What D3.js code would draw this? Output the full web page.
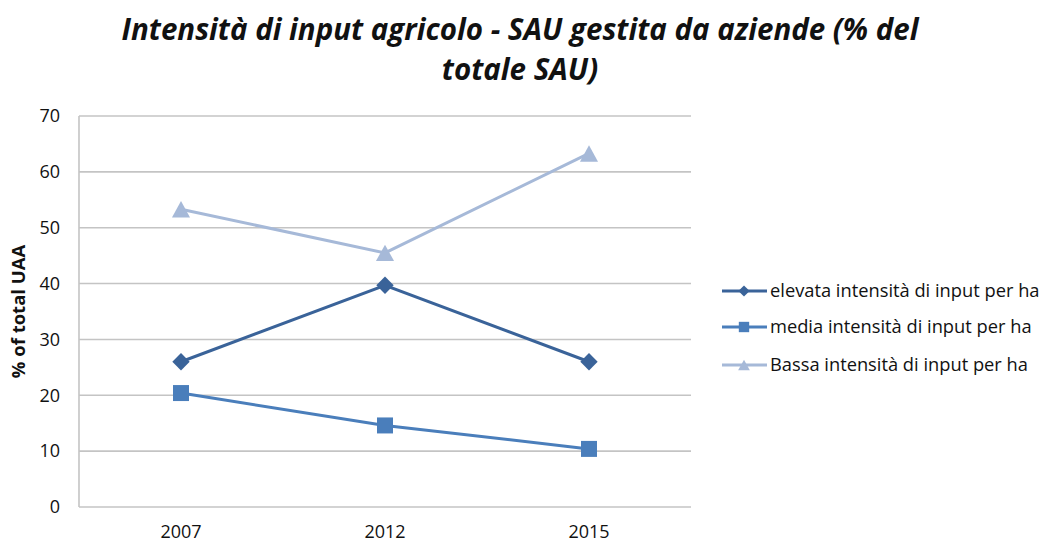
<!DOCTYPE html>
<html lang="it">
<head>
<meta charset="UTF-8">
<title>Intensità di input agricolo</title>
<script src="https://d3js.org/d3.v7.min.js"></script>
<style>
  body { margin: 0; background: #fff; }
  svg text { font-family: "Open Sans", sans-serif; fill: #111; }
</style>
</head>
<body>
<svg width="1043" height="544"></svg>
<script>
// data
const years = ["2007", "2012", "2015"];
const elevata = [26.0, 39.7, 26.0];
const media = [20.4, 14.6, 10.4];
const bassa = [53.3, 45.5, 63.3];
const seriesNames = ["elevata intensità di input per ha", "media intensità di input per ha", "Bassa intensità di input per ha"];
const yTicks = [0, 10, 20, 30, 40, 50, 60, 70];

// diamond = square turned 45 degrees
const diamond = {
  draw(ctx, size) {
    const r = Math.sqrt(size / 2);
    ctx.moveTo(0, -r); ctx.lineTo(r, 0); ctx.lineTo(0, r); ctx.lineTo(-r, 0); ctx.closePath();
  }
};
// triangle centred on its bounding box
const tri = {
  draw(ctx, size) {
    const h = Math.sqrt(size);
    ctx.moveTo(0, -h / 2); ctx.lineTo(h * 0.55, h / 2); ctx.lineTo(-h * 0.55, h / 2); ctx.closePath();
  }
};

const series = [
  { name: seriesNames[0], values: elevata, color: "#3A6399", shape: diamond, size: 150 },
  { name: seriesNames[1], values: media, color: "#4A7EBB", shape: d3.symbolSquare, size: 256 },
  { name: seriesNames[2], values: bassa, color: "#A6B9D8", shape: tri, size: 270 }
];

const plot = { left: 79, right: 691, top: 116, bottom: 507 };
const svg = d3.select("svg");

const x = d3.scaleBand().domain(years).range([plot.left, plot.right]);
const y = d3.scaleLinear().domain([0, 70]).range([plot.bottom, plot.top]);

// title
const title = svg.append("text")
  .attr("text-anchor", "middle")
  .style("font-style", "italic")
  .style("font-weight", "bold")
  .style("font-size", "29.5px");
title.append("tspan").attr("x", 520).attr("y", 40).text("Intensità di input agricolo - SAU gestita da aziende (% del");
title.append("tspan").attr("x", 520).attr("y", 80).text("totale SAU)");

// gridlines
svg.append("g")
  .selectAll("line")
  .data(yTicks)
  .join("line")
  .attr("x1", plot.left)
  .attr("x2", plot.right)
  .attr("y1", d => y(d))
  .attr("y2", d => y(d))
  .attr("stroke", "#c4c4c4")
  .attr("stroke-width", 1.6);

// y axis line
svg.append("line")
  .attr("x1", plot.left).attr("x2", plot.left)
  .attr("y1", plot.top).attr("y2", plot.bottom)
  .attr("stroke", "#c4c4c4")
  .attr("stroke-width", 1.6);

// y labels
svg.append("g")
  .selectAll("text")
  .data(yTicks)
  .join("text")
  .attr("x", 60)
  .attr("y", d => y(d))
  .attr("dy", "0.35em")
  .attr("text-anchor", "end")
  .style("font-size", "18px")
  .text(d => d);

// x labels
svg.append("g")
  .selectAll("text")
  .data(years)
  .join("text")
  .attr("x", d => x(d) + x.bandwidth() / 2)
  .attr("y", 538)
  .attr("text-anchor", "middle")
  .style("font-size", "18px")
  .text(d => d);

// y title
svg.append("text")
  .attr("transform", "translate(25," + ((plot.top + plot.bottom) / 2) + ") rotate(-90)")
  .attr("text-anchor", "middle")
  .style("font-weight", "bold")
  .style("font-size", "18.5px")
  .text("% of total UAA");

// lines and markers
const line = d3.line()
  .x((d, i) => x(years[i]) + x.bandwidth() / 2)
  .y(d => y(d));

series.forEach(s => {
  svg.append("path")
    .attr("d", line(s.values))
    .attr("fill", "none")
    .attr("stroke", s.color)
    .attr("stroke-width", 3);
  svg.append("g")
    .selectAll("path")
    .data(s.values)
    .join("path")
    .attr("transform", (d, i) => "translate(" + (x(years[i]) + x.bandwidth() / 2) + "," + y(d) + ")")
    .attr("d", d3.symbol().type(s.shape).size(s.size))
    .attr("fill", s.color);
});

// legend
const legend = svg.append("g");
const legendY = [291, 327, 365];
series.forEach((s, i) => {
  const g = legend.append("g").attr("transform", "translate(722," + legendY[i] + ")");
  g.append("line").attr("x1", 0).attr("x2", 45).attr("stroke", s.color).attr("stroke-width", 3);
  g.append("path")
    .attr("transform", "translate(22,0)")
    .attr("d", d3.symbol().type(s.shape).size(s.size * 0.42))
    .attr("fill", s.color);
  g.append("text")
    .attr("x", 48)
    .attr("dy", "0.35em")
    .style("font-size", "18.3px")
    .text(s.name);
});
</script>
</body>
</html>
